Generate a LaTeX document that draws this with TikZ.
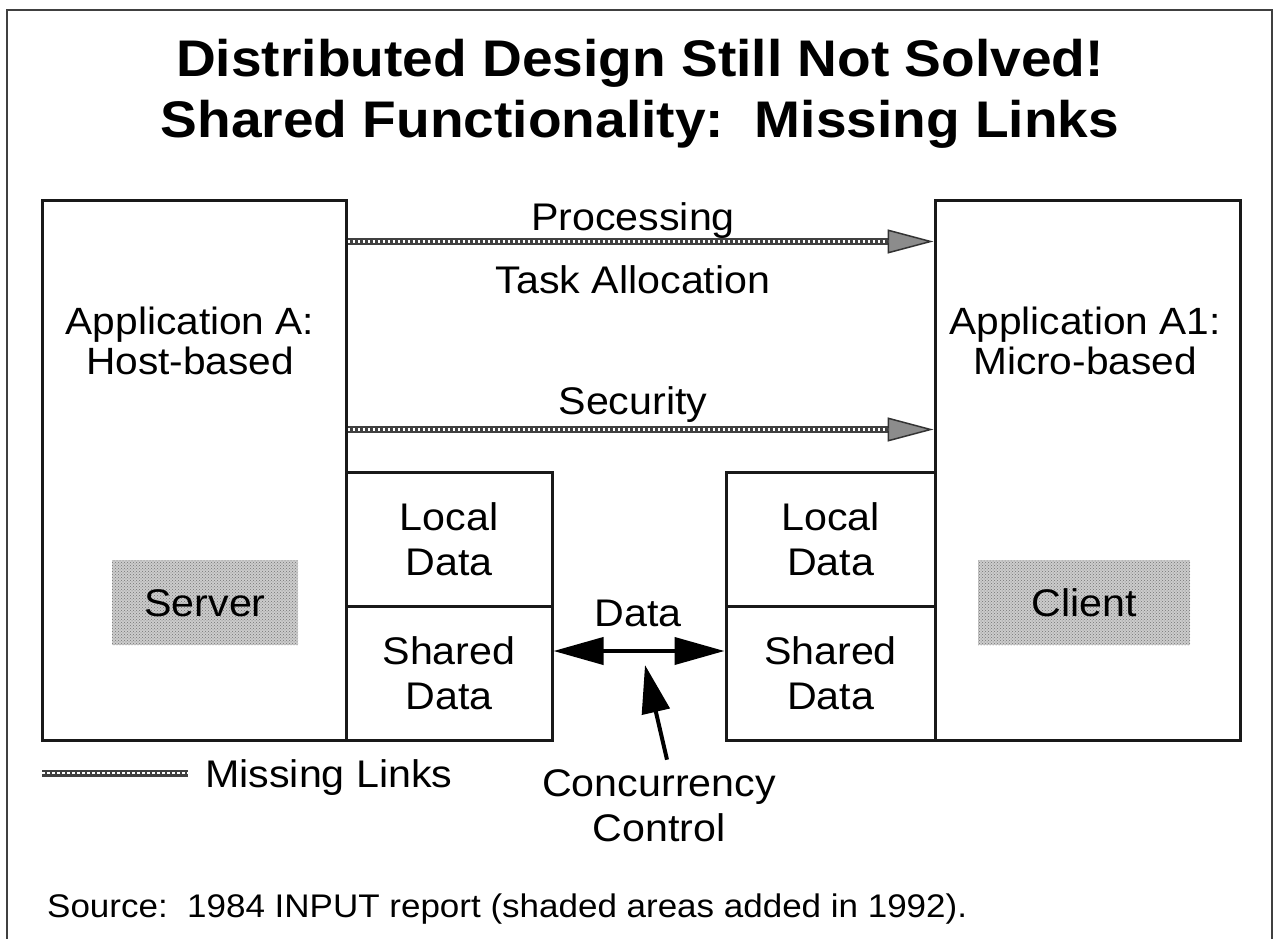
\documentclass[tikz,border=0pt]{standalone}
\usepackage{fontspec}
\setmainfont{Liberation Sans}[FakeStretch=1.07]
\usetikzlibrary{arrows.meta,patterns}
\begin{document}
\begin{tikzpicture}[x=1pt,y=-1pt,
  frame/.style={draw=black!75, line width=2pt},
  box/.style={draw=black!90, line width=3pt, minimum width=#1, inner sep=0pt},
  shade/.style={draw=none, inner sep=0pt, preaction={fill=gray!40}, pattern=crosshatch dots, pattern color=black!55},
  title/.style={font=\bfseries\fontsize{51.5}{61}\selectfont, anchor=base, inner sep=0pt},
  txt/.style={font=\fontsize{38}{40}\selectfont, align=center, inner sep=0pt},
  tdata/.style={font=\fontsize{38.5}{45}\selectfont, align=center, inner sep=0pt},
  lbl/.style={font=\fontsize{38.5}{45}\selectfont, anchor=base, inner sep=0pt},
  small/.style={font=\fontsize{32.7}{38}\selectfont, anchor=base west, inner sep=0pt},
  missingline/.style={draw=black!75, line width=7pt,
    postaction={draw=white, line width=2.5pt, dash pattern=on 2.5pt off 2.5pt, -}},
  missing/.style={draw=black!75, line width=7pt,
    -{Triangle[length=46pt,width=24pt,line width=1.5pt,fill=black!45,color=black!80]},
    postaction={draw=white, line width=2.5pt, dash pattern=on 2.5pt off 2.5pt, shorten >=46pt, -}},
  solidarrow/.style={draw=black, line width=4pt},
]
\useasboundingbox (0,0) rectangle (1280,939);
\draw[frame] (7,939) -- (7,10) -- (1272,10) -- (1272,939);

% title
\node[title] (t1) at (640,77) {Distributed Design Still Not Solved!};
\node[title] (t2) at (640,138) {Shared Functionality:~~Missing Links};

% big boxes
\node[box=304pt, minimum height=540pt] (appA) at (194,470) {};
\node[box=305pt, minimum height=540pt] (appA1) at (1087.5,470) {};
\node[txt] (appAt) at (190,341) {Application A:\\Host-based};
\node[txt] (appA1t) at (1085,341) {Application A1:\\Micro-based};

% shaded boxes
\node[shade, minimum width=186pt, minimum height=85pt] (server) at (205,602.5) {};
\node[lbl] (servert) at (205,616) {Server};
\node[shade, minimum width=212pt, minimum height=85pt] (client) at (1084,602.5) {};
\node[lbl] (clientt) at (1084,616) {Client};

% data boxes
\node[box=206pt, minimum height=134pt] (localL) at (449,539) {};
\node[box=206pt, minimum height=134pt] (sharedL) at (449,673) {};
\node[box=209pt, minimum height=134pt] (localR) at (830.5,539) {};
\node[box=209pt, minimum height=134pt] (sharedR) at (830.5,673) {};
\node[tdata] at (localL) {Local\\Data};
\node[tdata] at (sharedL) {Shared\\Data};
\node[tdata] at (localR) {Local\\Data};
\node[tdata] at (sharedR) {Shared\\Data};

% missing links
\draw[missing] ([yshift=-43pt]appA.north east) -- ([yshift=-43pt]appA1.north west);
\draw[missing] ([yshift=-231pt]appA.north east) -- ([yshift=-231pt]appA1.north west);
\node[lbl] (proc) at (633,230) {Processing};
\node[lbl] (task) at (633,293) {Task Allocation};
\node[lbl] (sec) at (633,414) {Security};

% data arrow
\draw[solidarrow, {Triangle[length=50pt,width=27pt]}-{Triangle[length=50pt,width=27pt]}]
  ([yshift=22pt]sharedL.east) -- ([yshift=22pt]sharedR.west);
\node[lbl] (data) at (638,626) {Data};

% concurrency control
\node[tdata] (conc) at (659,806) {Concurrency\\Control};
\coordinate (ctip) at (645,665);
\draw[solidarrow, -{Triangle[length=48pt,width=28pt]}] ([xshift=8pt,yshift=10pt]conc.north) -- (ctip);

% legend
\node[lbl, anchor=base west] (leg) at (205,787) {Missing Links};
\coordinate (legA) at (42,773);
\draw[missingline] (legA) -- ([xshift=-17pt]leg.west |- legA);

% source
\node[small] (src) at (47,917) {Source:~~1984 INPUT report (shaded areas added in 1992).};
\end{tikzpicture}
\end{document}
